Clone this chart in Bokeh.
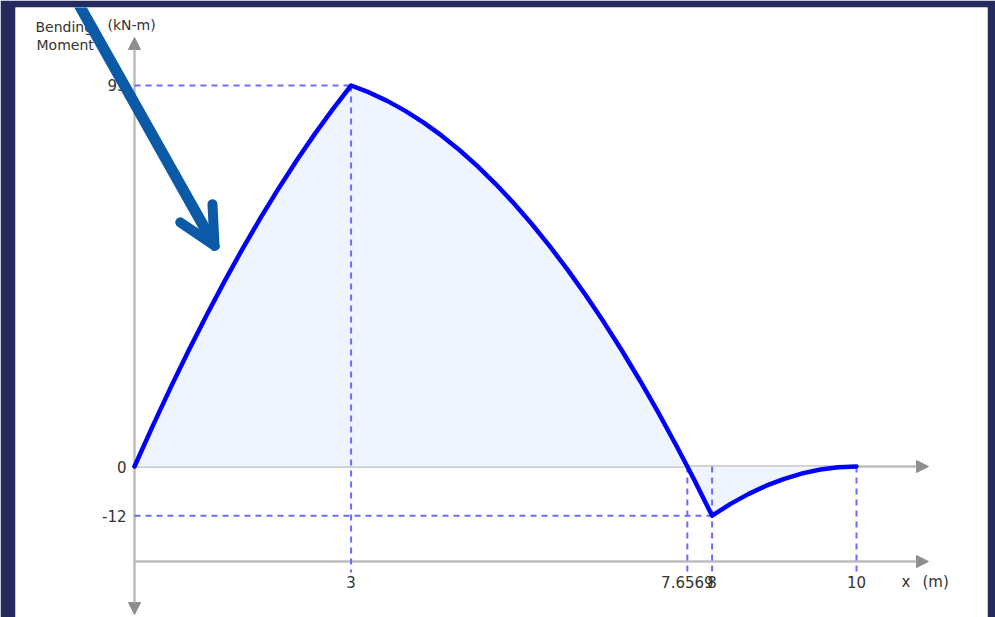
from bokeh.plotting import figure
from bokeh.models import Range1d, Arrow, NormalHead, OpenHead
from bokeh.embed import file_html
from bokeh.resources import INLINE
from bokeh.core.properties import value

# ---------------- data ----------------
x_m = [0, 0.25, 0.5, 0.75, 1, 1.25, 1.5, 1.75, 2, 2.25, 2.5, 2.75, 3,
       3.25, 3.5, 3.75, 4, 4.25, 4.5, 4.75, 5, 5.25, 5.5, 5.75, 6, 6.25,
       6.5, 6.75, 7, 7.25, 7.5, 7.6569, 7.75, 8,
       8.25, 8.5, 8.75, 9, 9.25, 9.5, 9.75, 10]
moment = [0, 9.81, 19.25, 28.31, 37, 45.31, 53.25, 60.81, 68, 74.81, 81.25, 87.31, 93,
          91.31, 89.25, 86.81, 84, 80.81, 77.25, 73.31, 69, 64.31, 59.25, 53.81, 48, 41.81,
          35.25, 28.31, 21, 13.31, 5.25, 0, -3.19, -12,
          -9.19, -6.75, -4.69, -3, -1.69, -0.75, -0.19, 0]

peak_x, peak_m = 3, 93
zero_x = 7.6569
support_x, support_m = 8, -12
end_x = 10

y_tick_values = [93, 0, -12]
y_tick_labels = ["93", "0", "-12"]
x_tick_values = [3, 7.6569, 8, 10]
x_tick_labels = ["3", "7.6569", "8", "10"]

# ---------------- layout helpers (pixel -> data) ----------------
PX_X = 72.2      # px per metre
PX_Y = 4.0968    # px per kN-m
OX, OY = 134, 466  # page position of origin


def dx(px):
    return (px - OX) / PX_X


def dy(py):
    return (OY - py) / PX_Y


W, H = 995, 617
p = figure(width=W, height=H,
           x_range=Range1d(dx(15), dx(987)), y_range=Range1d(dy(617), dy(7)),
           x_axis_type=None, y_axis_type=None,
           toolbar_location=None, output_backend="svg",
           min_border_left=15, min_border_right=8, min_border_top=7, min_border_bottom=0,
           background_fill_color="white", border_fill_color="#262b5d",
           outline_line_color=None)

# axes (gray arrows)
AX_LINE = "#bcbcbc"
AX_HEAD = "#8e8e8e"


def head():
    return NormalHead(size=12, fill_color=AX_HEAD, line_color=AX_HEAD, line_width=1)


lower_axis_y = dy(561)
p.add_layout(Arrow(start=head(), end=head(), x_start=0, y_start=dy(614), x_end=0, y_end=dy(37),
                   line_color=AX_LINE, line_width=2.5, level="underlay"))
p.add_layout(Arrow(end=head(), x_start=0, y_start=0, x_end=dx(928), y_end=0,
                   line_color=AX_LINE, line_width=2.5, level="underlay"))
p.add_layout(Arrow(end=head(), x_start=0, y_start=lower_axis_y, x_end=dx(928), y_end=lower_axis_y,
                   line_color=AX_LINE, line_width=2.5, level="underlay"))

# filled area under the curve
p.varea(x=x_m, y1=[0] * len(x_m), y2=moment, fill_color="#eff5fe", fill_alpha=1.0)

# dashed guide lines
DASH = "#6b6bff"
p.segment(x0=[0, 0], y0=[peak_m, support_m], x1=[peak_x, support_x], y1=[peak_m, support_m],
          line_color=DASH, line_width=2, line_dash="6 5")
vx = [peak_x, zero_x, support_x, end_x]
p.segment(x0=vx, y0=[peak_m, 0, 0, 0], x1=vx, y1=[dy(572)] * 4,
          line_color=DASH, line_width=2, line_dash="6 5")

# bending moment curve
p.line(x_m, moment, line_color="#0000ff", line_width=4.5, line_join="round", line_cap="round")

FONT = value("DejaVu Sans")
TXT = "#333333"

# y tick labels
p.text(x=[0] * 3, y=y_tick_values, text=y_tick_labels, x_offset=-8,
       text_font=FONT, text_font_size="15px", text_color=TXT,
       text_align="right", text_baseline="middle")

# x tick labels
p.text(x=x_tick_values, y=[dy(581)] * 4, text=x_tick_labels,
       text_font=FONT, text_font_size="15px", text_color=TXT,
       text_align="center", text_baseline="middle")

# axis titles
p.text(x=[dx(901), dx(922)], y=[dy(581)] * 2, text=["x", "(m)"],
       text_font=FONT, text_font_size="15px", text_color=TXT,
       text_align="left", text_baseline="middle")
p.text(x=[dx(35), dx(36)], y=[dy(26), dy(44)], text=["Bending", "Moment"],
       text_font=FONT, text_font_size="14px", text_color=TXT,
       text_align="left", text_baseline="middle")
p.text(x=[dx(107)], y=[dy(24)], text=["(kN-m)"],
       text_font=FONT, text_font_size="14px", text_color=TXT,
       text_align="left", text_baseline="middle")

# blue pointer arrow drawn over the chart
ARROW_BLUE = "#0a5aa8"
p.add_layout(Arrow(end=OpenHead(size=37, line_color=ARROW_BLUE, line_width=10,
                                line_cap="round", line_join="round"),
                   x_start=dx(75), y_start=dy(-2), x_end=dx(214), y_end=dy(245),
                   line_color=ARROW_BLUE, line_width=11, line_cap="round"))

open("out.html", "w").write(file_html(p, INLINE))
